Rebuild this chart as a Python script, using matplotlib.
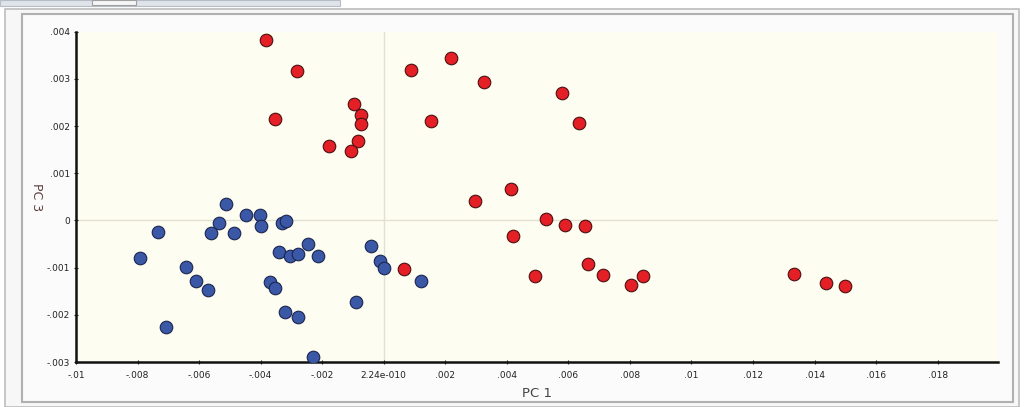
import matplotlib

matplotlib.use("Agg")
import matplotlib.pyplot as plt
from matplotlib.patches import Rectangle

# PC1 / PC3 scores, group A (red) and group B (blue)
red_pc1 = [-0.00384, -0.00281, -0.00352, -0.00096, -0.00073, -0.00075, -0.00085,
           -0.00177, -0.00108, 0.00087, 0.00218, 0.00154, 0.00325, 0.00578,
           0.00633, 0.00415, 0.00298, 0.00526, 0.00590, 0.00653, 0.00421,
           0.00065, 0.00492, 0.00664, 0.00712, 0.00802, 0.00843, 0.01334,
           0.01438, 0.01499]
red_pc3 = [0.00382, 0.00317, 0.00214, 0.00246, 0.00224, 0.00204, 0.00168,
           0.00158, 0.00147, 0.00319, 0.00344, 0.00211, 0.00294, 0.00271,
           0.00206, 0.00066, 0.00042, 0.00002, -0.00010, -0.00012, -0.00034,
           -0.00103, -0.00117, -0.00092, -0.00115, -0.00137, -0.00118, -0.00114,
           -0.00132, -0.00139]

blue_pc1 = [-0.00514, -0.00446, -0.00403, -0.00400, -0.00536, -0.00560, -0.00486,
            -0.00734, -0.00332, -0.00319, -0.00792, -0.00644, -0.00609, -0.00570,
            -0.00706, -0.00339, -0.00305, -0.00277, -0.00245, -0.00213, -0.00371,
            -0.00352, -0.00322, -0.00280, -0.00231, -0.00089, -0.00040, -0.00013,
            0.00002, 0.00120]
blue_pc3 = [0.00034, 0.00012, 0.00011, -0.00012, -0.00006, -0.00027, -0.00027,
            -0.00024, -0.00005, -0.00001, -0.00080, -0.00098, -0.00129, -0.00148,
            -0.00225, -0.00067, -0.00075, -0.00071, -0.00049, -0.00075, -0.00131,
            -0.00144, -0.00194, -0.00205, -0.00289, -0.00173, -0.00054, -0.00085,
            -0.00100, -0.00128]

x_ticks = [-0.01, -0.008, -0.006, -0.004, -0.002, 0.0, 0.002, 0.004, 0.006,
           0.008, 0.01, 0.012, 0.014, 0.016, 0.018]
x_tick_labels = ["-.01", "-.008", "-.006", "-.004", "-.002", "2.24e-010", ".002",
                 ".004", ".006", ".008", ".01", ".012", ".014", ".016", ".018"]
y_ticks = [-0.003, -0.002, -0.001, 0.0, 0.001, 0.002, 0.003, 0.004]
y_tick_labels = ["-.003", "-.002", "-.001", "0", ".001", ".002", ".003", ".004"]

plt.rcParams["font.family"] = ["DejaVu Sans"]

fig = plt.figure(figsize=(10.24, 4.07), dpi=100, facecolor="#ffffff")

# window chrome: top strip and panel frame (behind the axes)
W, H = 1024, 407


def px_rect(x0, y0, x1, y1, **kw):
    fig.patches.append(Rectangle((x0 / W, 1 - y1 / H), (x1 - x0) / W, (y1 - y0) / H,
                                 transform=fig.transFigure, zorder=-10, **kw))


px_rect(0, 0, 340, 6, facecolor="#dfe3ea", edgecolor="#b8bcc4", linewidth=0.8)
px_rect(92, 0, 136, 5, facecolor="#f6f6f6", edgecolor="#a0a0a0", linewidth=0.8)
px_rect(5, 9, 1019, 407, facecolor="#f7f7f7", edgecolor="#bdbdbd", linewidth=1.2)
px_rect(22, 14, 1013, 402, facecolor="#fbfbfb", edgecolor="#b0b0b0", linewidth=1.5)

ax = fig.add_axes([76 / W, 1 - 362 / H, (998 - 76) / W, (362 - 31.7) / H])
ax.set_facecolor("#fdfdf1")

ax.axvline(0, color="#e2e0d2", linewidth=1.0, zorder=1)
ax.axhline(0, color="#e2e0d2", linewidth=1.0, zorder=1)

ax.scatter(blue_pc1, blue_pc3, s=82, color="#3a58a6", edgecolors="#1b2550",
           linewidths=0.8, zorder=3)
ax.scatter(red_pc1, red_pc3, s=82, color="#e51f26", edgecolors="#4a1010",
           linewidths=0.8, zorder=3)

ax.set_xlim(-0.01, 0.01996)
ax.set_ylim(-0.003, 0.004)

ax.set_xticks(x_ticks)
ax.set_xticklabels(x_tick_labels)
ax.set_yticks(y_ticks)
ax.set_yticklabels(y_tick_labels)
ax.tick_params(axis="both", labelsize=6.5, colors="#222222", length=3, width=0.8,
               direction="inout")
ax.tick_params(axis="x", pad=5)
ax.tick_params(axis="y", pad=3)

for side in ["top", "right"]:
    ax.spines[side].set_visible(False)
for side in ["left", "bottom"]:
    ax.spines[side].set_color("#111111")
    ax.spines[side].set_linewidth(1.8)

ax.set_xlabel("PC 1", fontsize=9.5, color="#444444", labelpad=5)
ax.set_ylabel("PC 3", fontsize=9, color="#5e4040", rotation=270, labelpad=12)

fig.savefig("out.png", dpi=100, facecolor=fig.get_facecolor())
